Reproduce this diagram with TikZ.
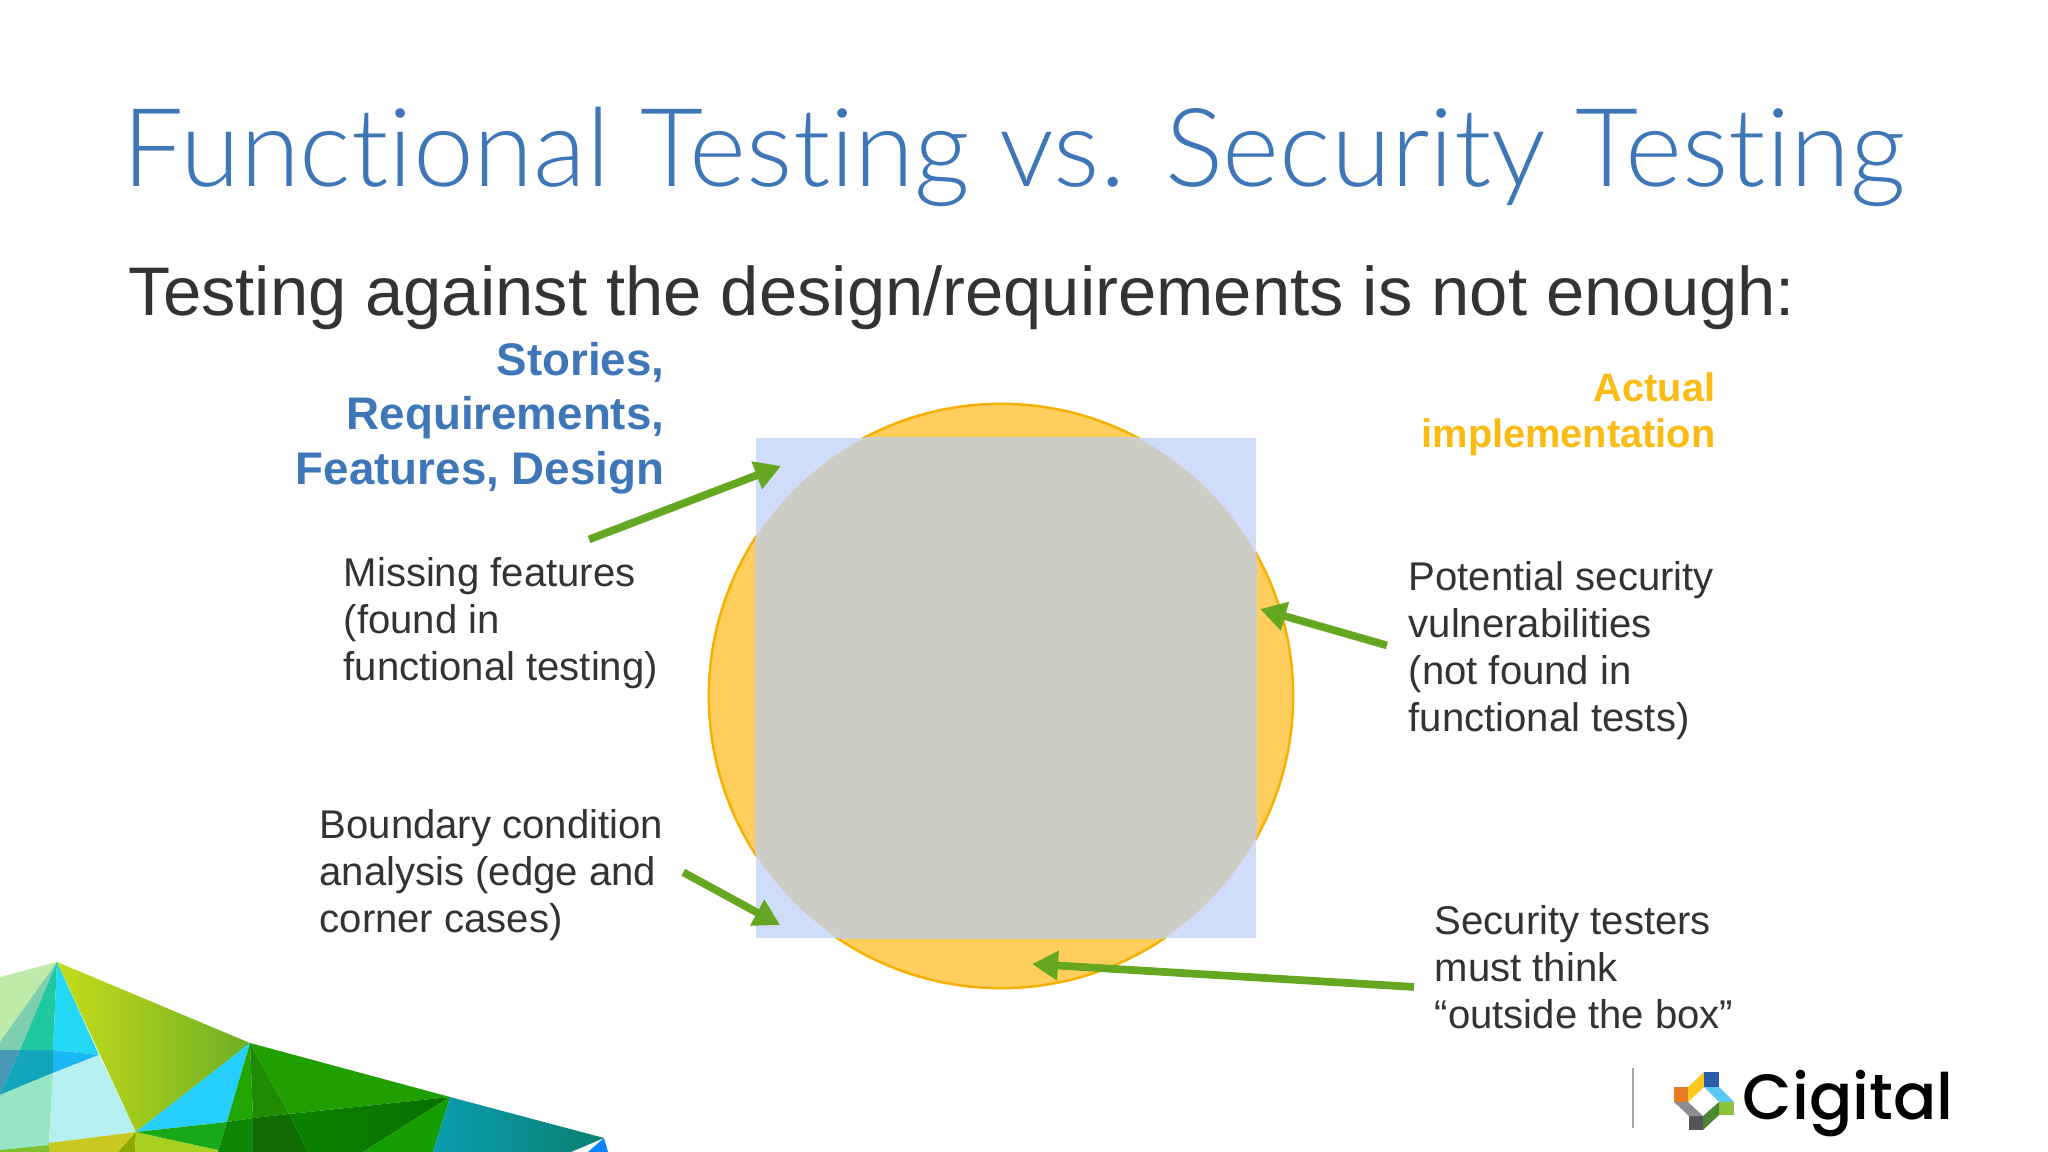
\documentclass[tikz,border=0pt]{standalone}
\usepackage{fontspec}
\setmainfont{Liberation Sans}
\newfontfamily\headfont[Ligatures=NoCommon]{Lato Light}
\newfontfamily\brandfont{Poppins Medium}
\usepackage{xcolor}
\usetikzlibrary{positioning,arrows.meta}

\definecolor{headblue}{HTML}{3E76B8}
\definecolor{bodygray}{HTML}{333333}
\definecolor{implorange}{HTML}{FFCE5C}
\definecolor{implline}{HTML}{F5B000}
\definecolor{implword}{HTML}{FBBB12}
\definecolor{specblue}{HTML}{CFDDFB}
\definecolor{overlapgray}{HTML}{CDCDC6}
\definecolor{gapgreen}{HTML}{66A722}

\tikzset{
    note/.style={anchor=north west, inner sep=0pt, align=left, text=bodygray, font=\fontsize{11.4}{13.3}\selectfont},
    tag/.style={anchor=north east, inner sep=0pt, align=right, font=\bfseries\fontsize{13}{15.4}\selectfont},
    gap/.style={-{Triangle[length=7.4pt,width=8pt]}, line width=2.2pt, gapgreen}
}

\begin{document}
\begin{tikzpicture}[x=0.01cm, y=-0.01cm]
    \useasboundingbox (0,0) rectangle (2048,1152);
    \fill[white] (0,0) rectangle (2048,1152);

    % headings
    \node [anchor=base west, inner sep=0pt, text=headblue, font=\headfont\fontsize{31}{35}\selectfont] (title) at (122,187) {Functional Testing vs. Security Testing};
    \node [anchor=base west, inner sep=0pt, text=bodygray, font=\fontsize{19.55}{25}\selectfont] (subtitle) at (128,316) {Testing against the design/requirements is not enough:};

    % circle and square
    \node [draw=implline, line width=0.7pt, fill=implorange, circle, minimum size=5.84cm, inner sep=0pt] (impl) at (1001,696) {};
    \node [fill=specblue, rectangle, minimum size=5.0cm, inner sep=0pt] (spec) at (1006,688) {};
    \begin{scope}
        \clip (spec.north west) rectangle (spec.south east);
        \fill[overlapgray] (impl) circle (292);
    \end{scope}

    % labels
    \node [tag, text=headblue] (stories) at (665,342) {Stories,\\Requirements,\\Features, Design};
    \node [tag, text=implword, font=\bfseries\fontsize{11.3}{13}\selectfont] (actual) at (1716,372) {Actual\\implementation};
    \node [note] (missing) at (343,557) {Missing features\\(found in\\functional testing)};
    \node [note] (potential) at (1408,561) {Potential security\\vulnerabilities\\(not found in\\functional tests)};
    \node [note] (boundary) at (319,809) {Boundary condition\\analysis (edge and\\corner cases)};
    \node [note] (testers) at (1434,905) {Security testers\\must think\\“outside the box”};

    % arrow tips
    \coordinate (tipmissing) at (781,466);
    \coordinate (tippotential) at (1260,609);
    \coordinate (tipboundary) at (780,925);
    \coordinate (tiptesters) at (1032,964);

    \draw [gap] ([xshift=70pt,yshift=5pt]missing.north west) -- (tipmissing);
    \draw [gap] ([xshift=-6pt,yshift=-24pt]potential.north west) -- (tippotential);
    \draw [gap] ([xshift=103.6pt,yshift=-18pt]boundary.north west) -- (tipboundary);
    \draw [gap] ([xshift=-5.7pt,yshift=-23.3pt]testers.north west) -- (tiptesters);

    % corner facets
    \fill[fill={rgb,255:red,190;green,235;blue,170}] (0,977) -- (57,962) -- (0,1042) -- cycle;
    \fill[fill={rgb,255:red,126;green,207;blue,176}] (57,962) -- (0,1042) -- (0,1050) -- (20,1050) -- cycle;
    \fill[fill={rgb,255:red,31;green,201;blue,160}] (57,962) -- (20,1050) -- (53,1050) -- cycle;
    \fill[fill={rgb,255:red,34;green,216;blue,245}] (57,962) -- (53,1050) -- (99,1055) -- cycle;
    \fill[fill={rgb,255:red,74;green,152;blue,184}] (0,1050) -- (20,1050) -- (0,1095) -- cycle;
    \fill[fill={rgb,255:red,18;green,165;blue,187}] (20,1050) -- (53,1050) -- (53,1073) -- (0,1095) -- cycle;
    \fill[fill={rgb,255:red,26;green,184;blue,245}] (53,1050) -- (99,1055) -- (53,1073) -- cycle;
    \fill[fill={rgb,255:red,150;green,229;blue,197}] (0,1095) -- (53,1073) -- (49,1143) -- (49,1145) -- (0,1150) -- cycle;
    \fill[fill={rgb,255:red,181;green,239;blue,240}] (53,1073) -- (99,1055) -- (136,1132) -- (49,1143) -- cycle;
    \fill[fill={rgb,255:red,128;green,192;blue,48}] (0,1150) -- (49,1145) -- (49,1152) -- (0,1152) -- cycle;
    \fill[fill={rgb,255:red,200;green,200;blue,32}] (49,1143) -- (136,1132) -- (118,1152) -- (49,1152) -- cycle;
    \fill[fill={rgb,255:red,143;green,168;blue,0}] (136,1132) -- (118,1152) -- (135,1152) -- cycle;
    \fill[fill={rgb,255:red,168;green,208;blue,32}] (136,1132) -- (218,1150) -- (218,1152) -- (135,1152) -- cycle;
    \shade[left color={rgb,255:red,198;green,220;blue,26}, right color={rgb,255:red,109;green,175;blue,37}] (57,962) -- (250,1043) -- (136,1132) -- cycle;
    \fill[fill={rgb,255:red,38;green,207;blue,255}] (250,1043) -- (136,1132) -- (227,1122) -- cycle;
    \fill[fill={rgb,255:red,24;green,168;blue,24}] (136,1132) -- (227,1122) -- (218,1152) -- (218,1150) -- cycle;
    \fill[fill={rgb,255:red,34;green,165;blue,0}] (250,1043) -- (227,1122) -- (253,1118) -- cycle;
    \fill[fill={rgb,255:red,32;green,138;blue,0}] (250,1043) -- (253,1118) -- (289,1114) -- cycle;
    \fill[fill={rgb,255:red,31;green,160;blue,0}] (250,1043) -- (450,1097) -- (289,1114) -- cycle;
    \fill[fill={rgb,255:red,15;green,133;blue,5}] (227,1122) -- (253,1118) -- (253,1152) -- (218,1152) -- cycle;
    \fill[fill={rgb,255:red,15;green,106;blue,0}] (253,1118) -- (289,1114) -- (308,1152) -- (253,1152) -- cycle;
    \shade[left color={rgb,255:red,12;green,130;blue,0}, right color={rgb,255:red,8;green,112;blue,0}] (289,1114) -- (450,1097) -- (363,1152) -- (308,1152) -- cycle;
    \fill[fill={rgb,255:red,20;green,158;blue,0}] (450,1097) -- (363,1152) -- (433,1152) -- cycle;
    \shade[left color={rgb,255:red,10;green,157;blue,176}, right color={rgb,255:red,10;green,128;blue,112}] (450,1097) -- (604,1138) -- (571,1152) -- (433,1152) -- cycle;
    \fill[fill={rgb,255:red,10;green,132;blue,255}] (604,1138) -- (608,1152) -- (588,1152) -- cycle;

    % logo
    \draw[gray!70, line width=0.7pt] (1633,1068) -- (1633,1128);
    \fill[fill={rgb,255:red,232;green,126;blue,36}] (1674,1087) rectangle (1688,1102);
    \fill[fill={rgb,255:red,255;green,200;blue,30}] (1688,1087) -- (1704,1072) -- (1704,1087) -- (1688,1102) -- cycle;
    \fill[fill={rgb,255:red,42;green,92;blue,170}] (1704,1072) rectangle (1719,1087);
    \fill[fill={rgb,255:red,90;green,200;blue,245}] (1704,1087) -- (1719,1087) -- (1734,1102) -- (1719,1102) -- cycle;
    \fill[fill={rgb,255:red,140;green,195;blue,60}] (1719,1102) rectangle (1734,1115);
    \fill[fill={rgb,255:red,75;green,135;blue,55}] (1719,1102) -- (1719,1115) -- (1703,1130) -- (1703,1116) -- cycle;
    \fill[fill={rgb,255:red,85;green,85;blue,88}] (1689,1116) rectangle (1703,1130);
    \fill[fill={rgb,255:red,140;green,140;blue,145}] (1674,1102) -- (1688,1102) -- (1703,1116) -- (1689,1116) -- cycle;
    \node [anchor=base west, inner sep=0pt, text=black, font=\brandfont\fontsize{18.2}{24}\selectfont] (brand) at (1742,1119) {Cigital};
\end{tikzpicture}
\end{document}
